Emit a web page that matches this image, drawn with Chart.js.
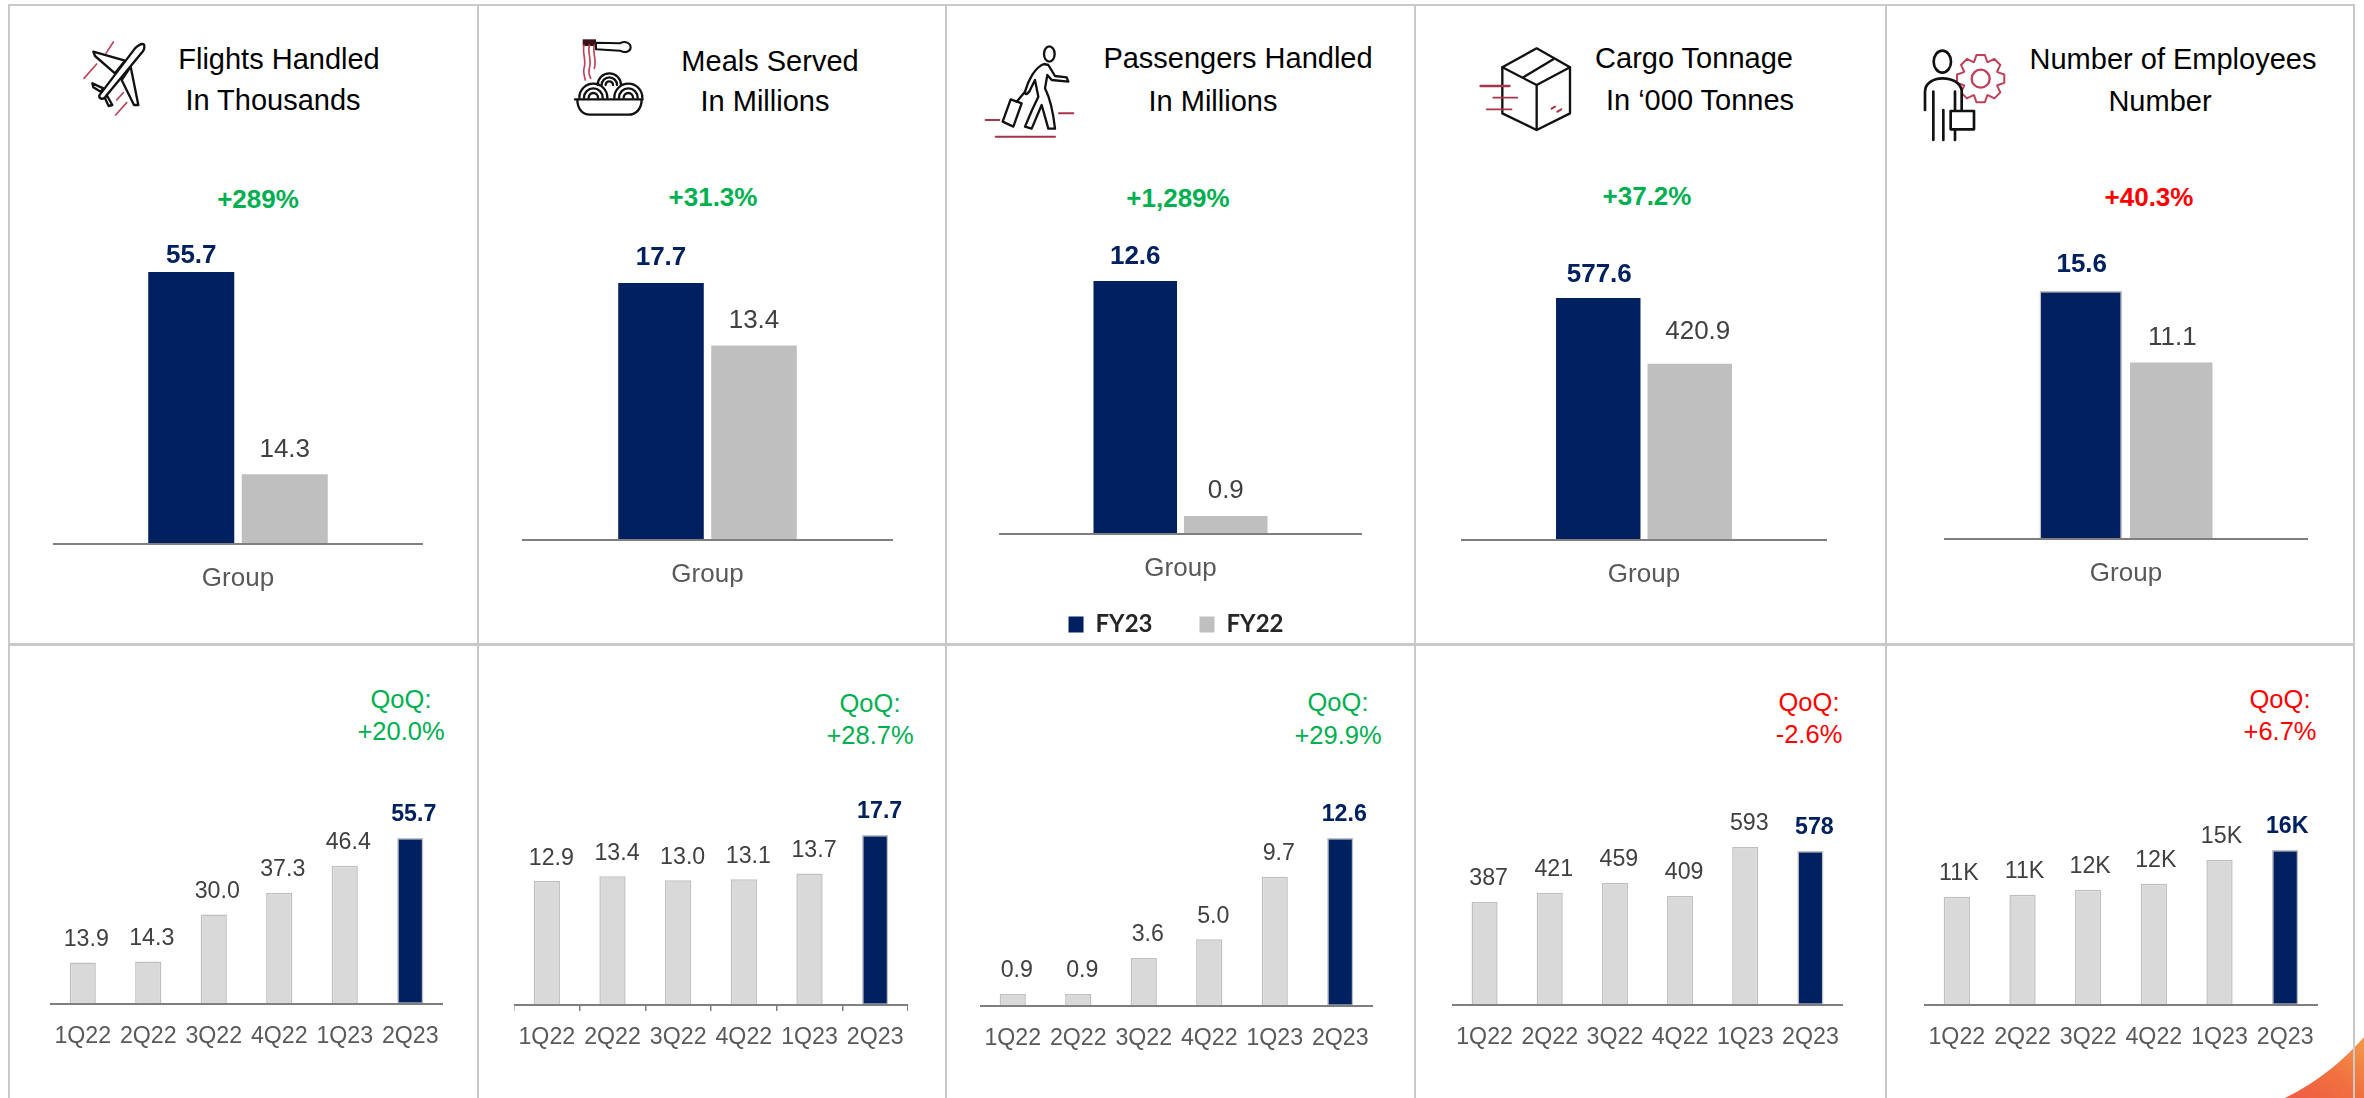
<!DOCTYPE html>
<html>
<head>
<meta charset="utf-8">
<title>Operating metrics</title>
<script src="https://cdn.jsdelivr.net/npm/chart.js@4"></script>
<style>
html,body{margin:0;padding:0;background:#fff;width:2364px;height:1098px;overflow:hidden;font-family:"Liberation Sans",Arial,sans-serif}
.abs{position:absolute}
.rule{position:absolute;background:#c9c9c9}
canvas{position:absolute;display:block}
.t{position:absolute;white-space:nowrap;transform:translate(-50%,-50%);line-height:1}
.title{font-size:29px;color:#000}
.delta{font-size:26px;font-weight:bold}
.qoq{font-size:25.5px}
svg.icon{position:absolute;filter:blur(.45px);overflow:visible}
</style>
</head>
<body>
<svg class="abs" style="left:0;top:0" width="2364" height="1098">
  <defs><linearGradient id="corner" x1="0" y1="1" x2="1" y2="0">
    <stop offset="0" stop-color="#ef5b45"/><stop offset=".5" stop-color="#f0703f"/><stop offset="1" stop-color="#f39a4a"/>
  </linearGradient></defs>
  <path d="M2285 1098 Q2330 1076 2364 1037 L2364 1098 Z" fill="url(#corner)"/>
</svg>
<div class="rule" style="left:8px;top:4px;width:2347px;height:2px"></div>
<div class="rule" style="left:8px;top:643px;width:2347px;height:3px"></div>
<div class="rule" style="left:8px;top:4px;width:2px;height:1094px"></div>
<div class="rule" style="left:477px;top:4px;width:2px;height:1094px"></div>
<div class="rule" style="left:945px;top:4px;width:2px;height:1094px"></div>
<div class="rule" style="left:1414px;top:4px;width:2px;height:1094px"></div>
<div class="rule" style="left:1885px;top:4px;width:2px;height:1094px"></div>
<div class="rule" style="left:2353px;top:4px;width:2px;height:1094px"></div>

<!-- plane -->
<svg class="icon" style="left:60px;top:20px" width="120" height="110" viewBox="0 0 360 330" fill="none" stroke-linejoin="round" stroke-linecap="round">
  <g stroke="#b9475c" stroke-width="5"><path d="M160 66L138 100M110 132L72 175M190 218L170 240M200 248L167 285"/></g>
  <g stroke="#111" stroke-width="7" fill="#fff">
    <path d="M195 122L100 95L105 108L165 160Z"/>
    <path d="M212 140L235 255L222 255L185 180Z"/>
    <path d="M130 205L97 190L100 202L122 215Z"/>
    <path d="M140 225L157 255L146 258L135 235Z"/>
    <path d="M248 72C255 72 254 85 250 92L135 232C128 240 116 236 118 226L225 85C235 75 242 72 248 72Z"/>
  </g>
</svg>
<!-- meal -->
<svg class="icon" style="left:560px;top:30px" width="110" height="100" viewBox="0 0 330 300" fill="none" stroke-linecap="round" stroke-linejoin="round">
  <path d="M108 38L180 40C195 32 212 38 212 52C212 66 195 70 180 62L108 58Z" stroke="#111" stroke-width="6" fill="#fff"/>
  <rect x="68" y="28" width="40" height="20" fill="#3a1216"/>
  <g stroke="#c0425a" stroke-width="5">
    <path d="M72 45C66 70 80 90 72 115C68 130 74 140 76 150"/>
    <path d="M88 45C82 70 96 90 88 115C84 130 90 140 92 145"/>
    <path d="M103 45C97 70 111 90 103 115"/>
  </g>
  <g stroke="#111" stroke-width="7">
    <path d="M113 165A35 35 0 0 1 183 165M125 165A23 23 0 0 1 171 165M137 165A11 11 0 0 1 159 165"/>
    <path d="M58 203A42 42 0 0 1 142 203M72 203A28 28 0 0 1 128 203M86 203A14 14 0 0 1 114 203"/>
    <path d="M163 203A42 42 0 0 1 247 203M177 203A28 28 0 0 1 233 203M191 203A14 14 0 0 1 219 203"/>
    <path d="M45 208L248 208M52 208C52 240 70 254 90 254L205 254C230 254 245 235 245 208"/>
  </g>
</svg>
<!-- passenger -->
<svg class="icon" style="left:970px;top:30px" width="110" height="120" viewBox="0 0 330 360" fill="none" stroke-linecap="round" stroke-linejoin="round">
  <g stroke="#a8344a" stroke-width="6"><path d="M47 270L88 270M267 250L310 250M77 320L255 320"/></g>
  <g stroke="#111" stroke-width="7">
    <ellipse cx="238" cy="72" rx="16" ry="23"/>
    <path d="M222 102C195 112 175 150 165 185C165 200 178 190 185 170L195 150L205 200C190 230 175 265 165 290L185 296L215 225L235 296L255 296C250 250 240 205 225 175L232 135L245 150L295 155L290 142L255 138L235 105Z" fill="#fff"/>
    <path d="M122 208L155 220L130 290L98 275Z" fill="#fff"/>
    <path d="M140 215L165 185"/>
  </g>
</svg>
<!-- cargo -->
<svg class="icon" style="left:1470px;top:30px" width="110" height="120" viewBox="0 0 330 360" fill="none" stroke-linecap="round" stroke-linejoin="round">
  <g stroke="#111" stroke-width="7">
    <path d="M200 55L97 112L97 250L200 300L300 250L300 112Z"/>
    <path d="M97 112L200 165L300 112M200 165L200 300M160 142L250 88"/>
  </g>
  <g stroke="#a8344a">
    <path d="M32 168L118 168" stroke-width="8"/>
    <path d="M70 203L142 203M50 238L125 238" stroke-width="5"/>
    <path d="M245 236L255 230M262 245L274 238" stroke-width="6"/>
  </g>
</svg>
<!-- employee -->
<svg class="icon" style="left:1910px;top:30px" width="110" height="120" viewBox="0 0 330 360" fill="none" stroke-linecap="round" stroke-linejoin="round">
  <path id="gear" stroke="#c0405a" stroke-width="6" fill="#fff"/>
  <circle cx="212" cy="146" r="27" stroke="#c0405a" stroke-width="7"/>
  <g stroke="#111" stroke-width="8">
    <ellipse cx="97" cy="95" rx="26" ry="33" fill="#fff"/>
    <path d="M45 240L45 185C45 160 70 145 97 145C130 145 150 160 155 180L155 240" fill="#fff"/>
    <path d="M70 185L70 330M135 185L135 330M100 240L100 330"/>
    <rect x="122" y="243" width="70" height="55" fill="#fff"/>
  </g>
</svg>

<div id="texts"></div>
<div id="charts"></div>

<script>
// ---------- data ----------
const quarters = ["1Q22","2Q22","3Q22","4Q22","1Q23","2Q23"];
const groupCategory = ["Group"];
const seriesNames = ["FY23","FY22"];

const flightsAnnual = [55.7, 14.3];
const mealsAnnual = [17.7, 13.4];
const passengersAnnual = [12.6, 0.9];
const cargoAnnual = [577.6, 420.9];
const employeesAnnual = [15.6, 11.1];

const flightsQuarterly = [13.9, 14.3, 30.0, 37.3, 46.4, 55.7];
const mealsQuarterly = [12.9, 13.4, 13.0, 13.1, 13.7, 17.7];
const passengersQuarterly = [0.9, 0.9, 3.6, 5.0, 9.7, 12.6];
const cargoQuarterly = [387, 421, 459, 409, 593, 578];
const employeesQuarterly = [10.9, 11.1, 11.6, 12.2, 14.6, 15.6];

const flightsLabels = ["13.9","14.3","30.0","37.3","46.4","55.7"];
const mealsLabels = ["12.9","13.4","13.0","13.1","13.7","17.7"];
const passengersLabels = ["0.9","0.9","3.6","5.0","9.7","12.6"];
const cargoLabels = ["387","421","459","409","593","578"];
const employeesLabels = ["11K","11K","12K","12K","15K","16K"];

const annualSets = [flightsAnnual, mealsAnnual, passengersAnnual, cargoAnnual, employeesAnnual];
const annualLabels = [["55.7","14.3"],["17.7","13.4"],["12.6","0.9"],["577.6","420.9"],["15.6","11.1"]];
const quarterlySets = [flightsQuarterly, mealsQuarterly, passengersQuarterly, cargoQuarterly, employeesQuarterly];
const quarterlyLabels = [flightsLabels, mealsLabels, passengersLabels, cargoLabels, employeesLabels];

const deltaTexts = ["+289%","+31.3%","+1,289%","+37.2%","+40.3%"];
const qoqTexts = ["+20.0%","+28.7%","+29.9%","-2.6%","+6.7%"];

// ---------- styling and placement ----------
const GREEN="#00b050", RED="#ff0000", NAVY="#002060", BAR_GREY="#bfbfbf", LIGHT="#d9d9d9";
const deltaColors = [GREEN,GREEN,GREEN,GREEN,RED];
const qoqColors = [GREEN,GREEN,GREEN,RED,RED];
const titleLines = [
 [["Flights Handled",279,59],["In Thousands",273,100]],
 [["Meals Served",770,61],["In Millions",765,101]],
 [["Passengers Handled",1238,58],["In Millions",1213,101]],
 [["Cargo Tonnage",1694,58],["In ‘000 Tonnes",1700,100]],
 [["Number of Employees",2173,58.5],["Number",2160,101]]
];
const deltaPos = [[258,199],[713,197],[1178,198],[1647,196],[2149,196.5]];
const qoqPos = [[401,700,732],[870,704,736],[1338,703,736],[1809,703,735],[2280,700,732]];

const topGeom = [ // axis left/right, baseline, tallest-bar height, slot width, bar share, label lifts, label dx
 {x0:53,x1:423,b:544,h:272,slot:187,pct:0.92,lift:[16,24],dx:[0,0]},
 {x0:522,x1:893,b:540,h:257,slot:186,pct:0.92,lift:[25,25],dx:[0,0]},
 {x0:999,x1:1362,b:533,h:252,slot:181,pct:0.923,lift:[24,25],dx:[0,0]},
 {x0:1461,x1:1827,b:540,h:242,slot:183,pct:0.923,lift:[23,32],dx:[1,8]},
 {x0:1944,x1:2308,b:539,h:248,slot:181,pct:0.911,lift:[26,25],dx:[1,1]}
];
const bottomGeom = [
 {x0:50,x1:443,b:1004,h:166,dx:3.5},
 {x0:514,x1:908,b:1005,h:170,dx:4.5,ticks:true},
 {x0:980,x1:1373,b:1006,h:168,dx:4},
 {x0:1452,x1:1843,b:1005,h:158,dx:4},
 {x0:1924,x1:2318,b:1005,h:155,dx:2}
];

// ---------- plain text ----------
const texts = document.getElementById("texts");
function addText(cls, str, x, y, color){
  const d = document.createElement("div");
  d.className = "t " + cls; d.textContent = str;
  d.style.left = x+"px"; d.style.top = y+"px";
  if(color) d.style.color = color;
  texts.appendChild(d);
}
titleLines.forEach(p => p.forEach(l => addText("title", l[0], l[1], l[2])));
deltaTexts.forEach((s,i) => addText("delta", s, deltaPos[i][0], deltaPos[i][1], deltaColors[i]));
qoqTexts.forEach((s,i) => {
  addText("qoq", "QoQ:", qoqPos[i][0], qoqPos[i][1], qoqColors[i]);
  addText("qoq", s, qoqPos[i][0], qoqPos[i][2], qoqColors[i]);
});

// gear outline for the employee icon
(function(){
  const cx=212, cy=146, pts=[]; const n=8;
  for(let i=0;i<n;i++){
    const a=i*2*Math.PI/n - Math.PI/2, w=Math.PI/n;
    [[-w*0.95,54],[-w*0.45,72],[w*0.45,72],[w*0.95,54]].forEach(q=>{
      pts.push((cx+q[1]*Math.cos(a+q[0])).toFixed(1)+" "+(cy+q[1]*Math.sin(a+q[0])).toFixed(1));
    });
  }
  document.getElementById("gear").setAttribute("d","M"+pts.join("L")+"Z");
})();

// ---------- value labels ----------
const valueLabels = {
  id:"valueLabels",
  afterDatasetsDraw(chart, args, o){
    const ctx = chart.ctx;
    ctx.save();
    ctx.textAlign="center"; ctx.textBaseline="middle";
    o.items.forEach(it=>{
      const bar = chart.getDatasetMeta(it.ds).data[it.i];
      ctx.font = (it.bold?"bold ":"")+o.size+"px 'Liberation Sans', Arial, sans-serif";
      ctx.fillStyle = it.bold ? NAVY : "#404040";
      ctx.fillText(it.text, bar.x+it.dx, bar.y-it.lift);
    });
    ctx.restore();
  }
};
const legendNudge = {
  id:"legendNudge",
  afterLayout(chart){
    if(chart.legend && chart.options.plugins.legend.display){
      chart.legend.left -= 4.5; chart.legend.right -= 4.5; chart.legend.top -= 28.5; chart.legend.bottom -= 28.5;
    }
  }
};

const host = document.getElementById("charts");
function makeCanvas(left, top, w, h){
  const c = document.createElement("canvas");
  c.width = w; c.height = h;
  c.style.left = left+"px"; c.style.top = top+"px";
  c.style.width = w+"px"; c.style.height = h+"px";
  host.appendChild(c);
  return c;
}
Chart.defaults.animation = false;
Chart.defaults.font.family = "'Liberation Sans', Arial, sans-serif";
const fixAxis = h => s => { s.height = h; s.paddingLeft = 0; s.paddingRight = 0; };

// ---------- annual charts ----------
annualSets.forEach((vals,k)=>{
  const g = topGeom[k], P = 50, w = g.x1-g.x0;
  const hasLegend = k===2;
  const axisH = 60;
  const legendH = hasLegend ? 82 : 0;
  const c = makeCanvas(g.x0, g.b-g.h-P, w, P+g.h+axisH+legendH);
  const navyBorder = k===4 ? 1.5 : 0;
  new Chart(c,{
    type:"bar",
    data:{labels:groupCategory,datasets:[
      {label:seriesNames[0],data:[vals[0]],backgroundColor:NAVY,borderColor:BAR_GREY,borderWidth:navyBorder,clip:false},
      {label:seriesNames[1],data:[vals[1]],backgroundColor:BAR_GREY,borderWidth:0,clip:false}
    ]},
    options:{
      responsive:false,maintainAspectRatio:false,
      layout:{padding:{top:P,left:0,right:0,bottom:0}},
      datasets:{bar:{categoryPercentage:g.slot/w,barPercentage:g.pct}},
      plugins:{
        tooltip:{enabled:false},
        legend:{display:hasLegend,position:"bottom",
          labels:{boxWidth:15,boxHeight:16,padding:47,color:"#262626",font:{family:"Lato",weight:"bold",size:24}}},
        valueLabels:{size:26,items:[
          {ds:0,i:0,text:annualLabels[k][0],bold:true,lift:g.lift[0],dx:g.dx[0]},
          {ds:1,i:0,text:annualLabels[k][1],bold:false,lift:g.lift[1],dx:g.dx[1]}
        ]}
      },
      scales:{
        y:{display:false,min:0,max:vals[0]},
        x:{afterFit:fixAxis(axisH),
           grid:{display:false,drawTicks:false},border:{display:true,color:"#7f7f7f",width:2,z:1},
           ticks:{color:"#595959",padding:19,font:{size:26},maxRotation:0}}
      }
    },
    plugins:[valueLabels,legendNudge]
  });
});

// ---------- quarterly charts ----------
quarterlySets.forEach((vals,k)=>{
  const g = bottomGeom[k], P = 40, w = g.x1-g.x0, axisH = 60;
  const c = makeCanvas(g.x0, g.b-g.h-P, w, P+g.h+axisH);
  const last = vals.length-1;
  const xGrid = g.ticks
    ? {display:true,drawOnChartArea:false,drawTicks:true,tickLength:6,color:"#7f7f7f",lineWidth:1.5}
    : {display:false,drawTicks:false};
  new Chart(c,{
    type:"bar",
    data:{labels:quarters,datasets:[{
      data:vals,
      backgroundColor:vals.map((v,i)=>i===last?NAVY:LIGHT),
      borderColor:BAR_GREY,borderWidth:1.5,borderSkipped:false,clip:false,
      categoryPercentage:1,barPercentage:0.4
    }]},
    options:{
      responsive:false,maintainAspectRatio:false,
      layout:{padding:{top:P,left:0,right:0,bottom:0}},
      plugins:{
        tooltip:{enabled:false},legend:{display:false},
        valueLabels:{size:23.2,items:vals.map((v,i)=>({ds:0,i,text:quarterlyLabels[k][i],bold:i===last,lift:23,dx:g.dx}))}
      },
      scales:{
        y:{display:false,min:0,max:Math.max(...vals)},
        x:{afterFit:fixAxis(axisH),
           grid:xGrid,border:{display:true,color:"#7f7f7f",width:2,z:1},
           ticks:{color:"#595959",padding:g.ticks?13:19,font:{size:23.2},maxRotation:0,autoSkip:false}}
      }
    },
    plugins:[valueLabels]
  });
});
</script>
</body>
</html>
